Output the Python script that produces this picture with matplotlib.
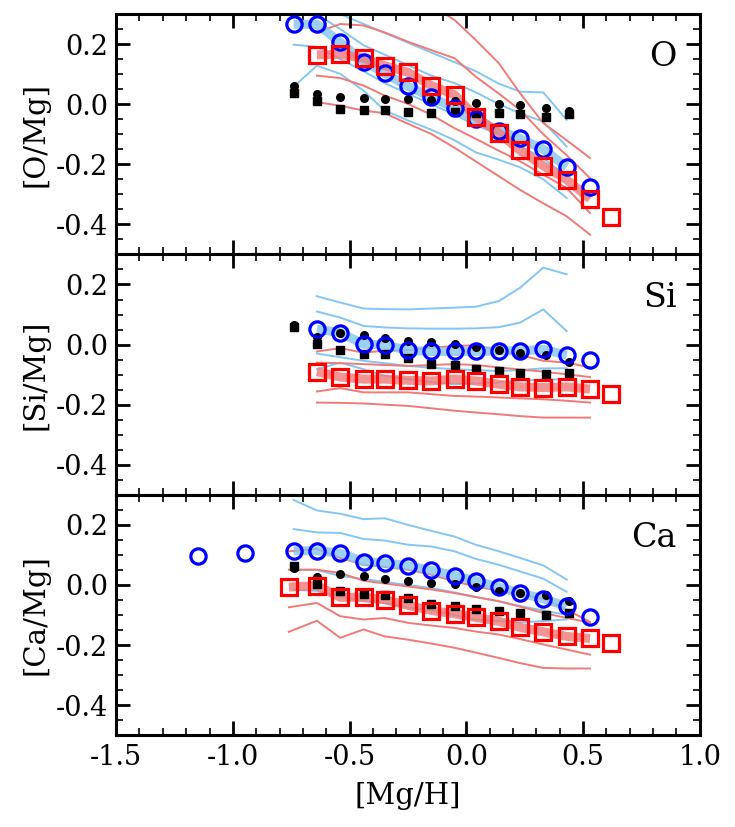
import numpy as np
import matplotlib
matplotlib.use("Agg")
import matplotlib.pyplot as plt
from matplotlib.ticker import MultipleLocator, FormatStrFormatter

plt.rcParams["font.family"] = "DejaVu Serif"
plt.rcParams["axes.unicode_minus"] = False

# ---------- data ----------
x_black = [-0.74, -0.64, -0.54, -0.44, -0.35, -0.25, -0.15, -0.05, 0.04, 0.14, 0.23, 0.34, 0.44]

# panel O
o_xb = [-0.74, -0.64, -0.54, -0.44, -0.35, -0.25, -0.15, -0.05, 0.04, 0.14, 0.23, 0.33, 0.43]
o_xr = [-0.64, -0.54, -0.44, -0.35, -0.25, -0.15, -0.05, 0.04, 0.14, 0.23, 0.33, 0.43, 0.53]
o_circ_x = o_xb + [0.53]
o_circ_y = [0.266, 0.266, 0.206, 0.142, 0.103, 0.060, 0.023, -0.013, -0.050, -0.088, -0.114, -0.150, -0.209, -0.276]
o_sq_x = o_xr + [0.62]
o_sq_y = [0.164, 0.166, 0.153, 0.128, 0.106, 0.062, 0.031, -0.041, -0.096, -0.154, -0.205, -0.251, -0.315, -0.375]
o_blue = [
    [0.42, 0.36, 0.30, 0.267, 0.237, 0.205, 0.172, 0.14, 0.11, 0.068, 0.042, 0.039, -0.052],
    [0.34, 0.30, 0.25, 0.196, 0.165, 0.13, 0.095, 0.07, 0.04, 0.0, -0.03, -0.058, -0.141],
    [0.198, 0.191, 0.15, 0.11, 0.07, 0.035, 0.0, -0.035, -0.07, -0.10, -0.14, -0.18, -0.24],
    [0.058, 0.128, 0.101, 0.045, -0.021, -0.054, -0.085, -0.12, -0.16, -0.185, -0.21, -0.25, -0.312],
]
o_red = [
    [0.45, 0.45, 0.42, 0.40, 0.37, 0.33, 0.28, 0.214, 0.136, 0.037, -0.063, -0.12, -0.179],
    [0.239, 0.267, 0.262, 0.239, 0.208, 0.18, 0.153, 0.092, 0.035, -0.019, -0.10, -0.17, -0.246],
    [0.095, 0.087, 0.062, 0.029, 0.001, -0.035, -0.08, -0.115, -0.155, -0.19, -0.235, -0.279, -0.362],
    [0.007, -0.005, -0.021, -0.03, -0.065, -0.099, -0.145, -0.19, -0.24, -0.285, -0.33, -0.373, -0.434],
]
o_bdot = [0.062, 0.034, 0.023, 0.020, 0.017, 0.017, 0.014, 0.010, 0.005, 0.000, -0.002, -0.013, -0.024]
o_bsq = [0.036, 0.009, -0.016, -0.018, -0.019, -0.025, -0.030, -0.026, -0.030, -0.030, -0.032, -0.043, -0.032]

# panel Si
si_xb = [-0.64, -0.54, -0.44, -0.35, -0.25, -0.15, -0.05, 0.04, 0.14, 0.23, 0.33, 0.43]
si_xr = [-0.64, -0.54, -0.44, -0.35, -0.25, -0.15, -0.05, 0.04, 0.14, 0.23, 0.33, 0.43, 0.53]
si_circ_x = si_xb + [0.53]
si_circ_y = [0.051, 0.040, 0.001, -0.001, -0.019, -0.023, -0.023, -0.023, -0.021, -0.021, -0.016, -0.035, -0.051]
si_sq_x = si_xr + [0.62]
si_sq_y = [-0.090, -0.108, -0.115, -0.115, -0.119, -0.121, -0.115, -0.121, -0.132, -0.141, -0.143, -0.141, -0.148, -0.163]
si_blue = [
    [0.161, 0.14, 0.12, 0.118, 0.117, 0.12, 0.123, 0.126, 0.145, 0.189, 0.256, 0.234],
    [0.11, 0.09, 0.062, 0.057, 0.054, 0.053, 0.053, 0.054, 0.058, 0.073, 0.117, 0.045],
    [-0.03, -0.042, -0.054, -0.062, -0.071, -0.077, -0.082, -0.085, -0.088, -0.085, -0.079, -0.079],
    [-0.082, -0.06, -0.082, -0.104, -0.115, -0.125, -0.132, -0.13, -0.126, -0.12, -0.117, -0.115],
]
si_red = [
    [-0.023, -0.012, -0.027, -0.02, -0.019, -0.01, -0.005, -0.002, -0.019, -0.035, -0.054, -0.06, -0.076],
    [-0.06, -0.062, -0.065, -0.068, -0.071, -0.068, -0.065, -0.068, -0.076, -0.083, -0.09, -0.099, -0.108],
    [-0.156, -0.145, -0.159, -0.159, -0.159, -0.165, -0.171, -0.173, -0.176, -0.179, -0.182, -0.187, -0.193],
    [-0.193, -0.194, -0.196, -0.2, -0.204, -0.212, -0.22, -0.226, -0.232, -0.238, -0.243, -0.243, -0.243],
]
si_bdot = [0.065, 0.025, 0.040, 0.031, 0.021, 0.012, 0.009, 0.003, -0.008, -0.019, -0.027, -0.035, -0.057]
si_bsq = [0.058, 0.003, -0.019, -0.030, -0.032, -0.045, -0.063, -0.069, -0.080, -0.088, -0.093, -0.099, -0.093]

# panel Ca
ca_xb = [-0.74, -0.64, -0.54, -0.44, -0.35, -0.25, -0.15, -0.05, 0.04, 0.14, 0.23, 0.33, 0.43]
ca_xr = [-0.76, -0.64, -0.54, -0.44, -0.35, -0.25, -0.15, -0.05, 0.04, 0.14, 0.23, 0.33, 0.43, 0.53]
ca_circ_x = [-1.15, -0.95] + ca_xb + [0.53]
ca_circ_y = [0.097, 0.106, 0.114, 0.114, 0.106, 0.078, 0.073, 0.064, 0.049, 0.031, 0.014, -0.007, -0.027, -0.046, -0.071, -0.106]
ca_sq_x = ca_xr + [0.62]
ca_sq_y = [-0.007, -0.002, -0.041, -0.041, -0.049, -0.068, -0.085, -0.096, -0.108, -0.121, -0.141, -0.156, -0.171, -0.178, -0.193]
ca_blue = [
    [0.283, 0.248, 0.237, 0.219, 0.222, 0.20, 0.18, 0.161, 0.134, 0.112, 0.09, 0.065, 0.018],
    [0.186, 0.175, 0.173, 0.153, 0.148, 0.134, 0.128, 0.112, 0.087, 0.067, 0.045, 0.021, -0.023],
    [0.05, 0.05, 0.03, 0.02, 0.01, 0.0, -0.01, -0.025, -0.04, -0.055, -0.07, -0.085, -0.10],
    [-0.016, -0.02, -0.038, -0.054, -0.06, -0.075, -0.085, -0.10, -0.115, -0.12, -0.125, -0.12, -0.115],
]
ca_red = [
    [0.112, 0.12, 0.09, 0.067, 0.06, 0.051, 0.034, 0.012, -0.005, -0.019, -0.032, -0.046, -0.082, -0.123],
    [0.051, 0.051, 0.04, 0.014, 0.005, -0.005, -0.015, -0.027, -0.04, -0.054, -0.072, -0.093, -0.11, -0.125],
    [-0.074, -0.06, -0.104, -0.115, -0.11, -0.126, -0.135, -0.143, -0.155, -0.165, -0.18, -0.198, -0.215, -0.232],
    [-0.156, -0.119, -0.176, -0.148, -0.171, -0.182, -0.195, -0.209, -0.225, -0.243, -0.26, -0.276, -0.278, -0.278],
]
ca_bdot = [0.056, 0.025, 0.038, 0.031, 0.021, 0.014, 0.007, 0.003, -0.008, -0.019, -0.027, -0.035, -0.054]
ca_bsq = [0.064, 0.003, -0.021, -0.030, -0.032, -0.045, -0.063, -0.069, -0.080, -0.088, -0.093, -0.099, -0.093]

panels = [
    ("O", "[O/Mg]", o_xb, o_xr, o_circ_x, o_circ_y, o_sq_x, o_sq_y, o_blue, o_red, o_bdot, o_bsq),
    ("Si", "[Si/Mg]", si_xb, si_xr, si_circ_x, si_circ_y, si_sq_x, si_sq_y, si_blue, si_red, si_bdot, si_bsq),
    ("Ca", "[Ca/Mg]", ca_xb, ca_xr, ca_circ_x, ca_circ_y, ca_sq_x, ca_sq_y, ca_blue, ca_red, ca_bdot, ca_bsq),
]

BLUE_LINE = "#84c6f2"
RED_LINE = "#f07a78"

fig, axes = plt.subplots(3, 1, figsize=(7.35, 8.27), dpi=100, sharex=True)
fig.subplots_adjust(left=0.158, right=0.952, top=0.983, bottom=0.111, hspace=0)

for ax, (lab, ylab, xb, xr, cx, cy, sx, sy, blue, red, bdot, bsq) in zip(axes, panels):
    nb, nr = len(xb), len(xr)
    # percentile lines
    for yy in blue:
        ax.plot(xb, yy, color=BLUE_LINE, lw=1.4, zorder=1)
    for yy in red:
        ax.plot(xr, yy, color=RED_LINE, lw=1.4, zorder=1)
    # thick median bands
    ax.plot(xb, cy[-nb - 1:-1], color=BLUE_LINE, lw=6.5, alpha=0.8, zorder=2, solid_capstyle="butt")
    ax.plot(xr, sy[-nr - 1:-1], color=RED_LINE, lw=6.5, alpha=0.8, zorder=2, solid_capstyle="butt")
    # black comparison points
    ax.plot(x_black, bsq, "s", color="black", ms=5.5, zorder=3)
    ax.plot(x_black, bdot, "o", color="black", ms=5.5, zorder=3)
    # medians
    ax.plot(cx, cy, "o", mfc="none", mec="blue", mew=2.3, ms=11, zorder=4)
    ax.plot(sx, sy, "s", mfc="none", mec="red", mew=2.3, ms=11, zorder=5)

    ax.set_xlim(-1.5, 1.0)
    ax.set_ylim(-0.5, 0.3)
    ax.set_ylabel(ylab, fontsize=21, labelpad=4)
    ax.text(0.96, 0.82, lab, transform=ax.transAxes, ha="right", va="center", fontsize=24)

    ax.xaxis.set_major_locator(MultipleLocator(0.5))
    ax.xaxis.set_minor_locator(MultipleLocator(0.1))
    ax.yaxis.set_major_locator(MultipleLocator(0.2))
    ax.yaxis.set_minor_locator(MultipleLocator(0.05))
    ax.yaxis.set_major_formatter(FormatStrFormatter("%.1f"))
    ax.xaxis.set_major_formatter(FormatStrFormatter("%.1f"))
    ax.tick_params(which="both", direction="in", top=True, right=True, labelsize=19.5, pad=6)
    ax.tick_params(which="major", length=10, width=2)
    ax.tick_params(which="minor", length=5, width=1.2)
    for sp in ax.spines.values():
        sp.set_linewidth(2.2)

axes[-1].set_xlabel("[Mg/H]", fontsize=21, labelpad=8)
fig.align_ylabels(axes)

fig.savefig("out.png", dpi=100)
